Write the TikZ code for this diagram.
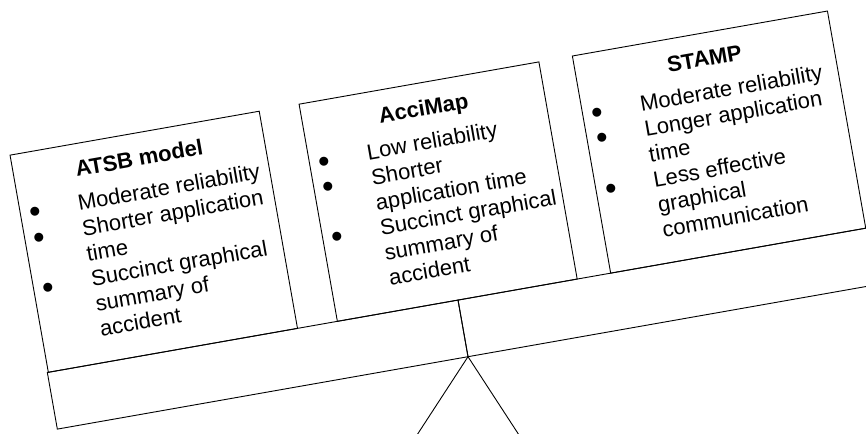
\documentclass[tikz,border=0pt]{standalone}
\usepackage{fontspec}
\setmainfont{Liberation Sans}
\tikzset{
  panel/.style={draw, line width=0.9pt, inner sep=0pt, outer sep=0pt},
  boxtitle/.style={inner sep=0pt, outer sep=0pt, anchor=base, font=\fontsize{22}{25.5}\selectfont\bfseries},
  boxbody/.style={inner sep=0pt, outer sep=0pt, anchor=base west, font=\fontsize{22}{25.5}\selectfont},
  leg/.style={line width=0.9pt},
}
\newcommand{\itemlist}[1]{\begin{tabular}[t]{@{}p{58.5pt}@{}l@{}}#1\end{tabular}}
\newcommand{\bul}{\hspace*{9.2pt}\raisebox{-4.5pt}{\fontsize{33}{25.5}\selectfont •}}
\begin{document}
\begin{tikzpicture}[x=1pt,y=1pt]
\useasboundingbox (0,0) rectangle (866,433);
\clip (0,0) rectangle (866,433);
\coordinate (footL) at (417,-2);
\coordinate (footR) at (519,-2);
\begin{scope}[shift={(468,76.3)}, rotate=10, transform shape]
  % beam
  \node[panel, minimum width=417pt, minimum height=57.5pt] (beamL) at (-208.5,28.75) {};
  \node[panel, minimum width=417pt, minimum height=57.5pt] (beamR) at (208.5,28.75) {};
  % boxes
  \node[panel, minimum width=253pt, minimum height=220.5pt] (atsb) at (-289.5,167.75) {};
  \node[panel, minimum width=243.5pt, minimum height=220.5pt] (accimap) at (-0.75,167.75) {};
  \node[panel, minimum width=259pt, minimum height=220.5pt] (stamp) at (284.5,167.75) {};
  % titles
  \node[boxtitle] (atsbtitle) at (-289.5,245) {ATSB model};
  \node[boxtitle] (accimaptitle) at (-0.75,245) {AcciMap};
  \node[boxtitle] (stamptitle) at (284.5,245) {STAMP};
  % bodies
  \node[boxbody] (atsbbody) at (-416,211) {\itemlist{%
    \bul & Moderate reliability\\
    \bul & Shorter application\\
         & time\\
    \bul & Succinct graphical\\
         & summary of\\
         & accident}};
  \node[boxbody] (accimapbody) at (-122.5,211) {\itemlist{%
    \bul & Low reliability\\
    \bul & Shorter\\
         & application time\\
    \bul & Succinct graphical\\
         & summary of\\
         & accident}};
  \node[boxbody] (stampbody) at (155,211) {\itemlist{%
    \bul & Moderate reliability\\
    \bul & Longer application\\
         & time\\
    \bul & Less effective\\
         & graphical\\
         & communication}};
\end{scope}
\draw[leg] (footL) -- (beamL.south east) -- (footR);
\end{tikzpicture}
\end{document}
